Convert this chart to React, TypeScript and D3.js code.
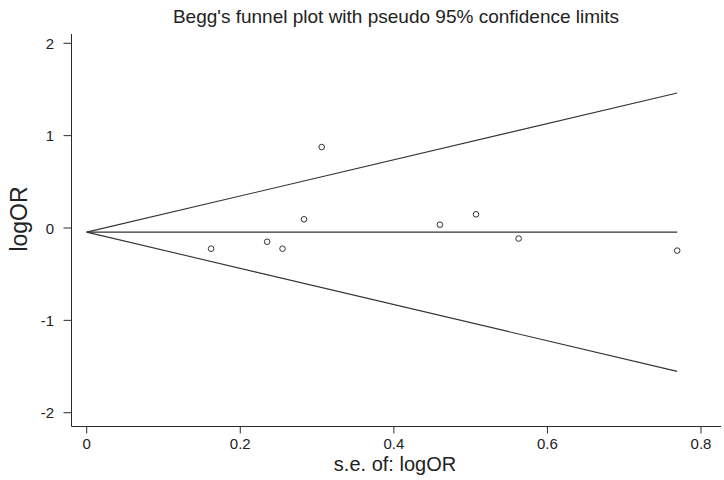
import React, { useEffect, useRef } from 'react';
import * as d3 from 'd3';

// study standard errors and log odds ratios
const seValues = [0.162, 0.235, 0.255, 0.283, 0.306, 0.46, 0.507, 0.5625, 0.769];
const logOrValues = [-0.224, -0.149, -0.224, 0.094, 0.877, 0.036, 0.148, -0.114, -0.245];
const pooledLogOr = -0.045;
const maxSe = 0.769;
const xTicks = [0, 0.2, 0.4, 0.6, 0.8];
const yTicks = [-2, -1, 0, 1, 2];

const App = () => {
  const svgRef = useRef<SVGSVGElement>(null);

  useEffect(() => {
    const svg = d3.select(svgRef.current);
    svg.selectAll('*').remove();

    const width = 724;
    const height = 480;
    const font = '"Liberation Sans", Arial, sans-serif';
    const ink = '#2a2a2a';

    const x = d3.scaleLinear().domain([0, 0.8]).range([86.7, 701]);
    const y = d3.scaleLinear().domain([-2, 2]).range([412.7, 43.3]);

    svg.append('rect').attr('width', width).attr('height', height).attr('fill', '#fff');

    // axes
    const axisX = 71.5;
    const axisY = 426.5;

    svg.append('line')
      .attr('x1', axisX).attr('x2', axisX)
      .attr('y1', 34).attr('y2', axisY)
      .attr('stroke', ink).attr('stroke-width', 1);

    svg.append('line')
      .attr('x1', axisX).attr('x2', 721)
      .attr('y1', axisY).attr('y2', axisY)
      .attr('stroke', ink).attr('stroke-width', 1);

    const yt = svg.append('g');
    yTicks.forEach(t => {
      yt.append('line')
        .attr('x1', axisX - 8).attr('x2', axisX)
        .attr('y1', y(t)).attr('y2', y(t))
        .attr('stroke', ink);
      yt.append('text')
        .attr('x', 54).attr('y', y(t) + 5.5)
        .attr('text-anchor', 'end')
        .style('font-family', font).style('font-size', '15px').style('fill', '#222')
        .text(String(t));
    });

    const xt = svg.append('g');
    xTicks.forEach(t => {
      xt.append('line')
        .attr('x1', x(t)).attr('x2', x(t))
        .attr('y1', axisY).attr('y2', axisY + 7)
        .attr('stroke', ink);
      xt.append('text')
        .attr('x', x(t)).attr('y', 449)
        .attr('text-anchor', 'middle')
        .style('font-family', font).style('font-size', '15px').style('fill', '#222')
        .text(t === 0 ? '0' : d3.format('.1f')(t));
    });

    // pseudo 95% confidence limits
    const lines: [number, number][][] = [
      [[0, pooledLogOr], [maxSe, pooledLogOr + 1.96 * maxSe]],
      [[0, pooledLogOr], [maxSe, pooledLogOr]],
      [[0, pooledLogOr], [maxSe, pooledLogOr - 1.96 * maxSe]],
    ];
    const line = d3.line<[number, number]>().x(d => x(d[0])).y(d => y(d[1]));
    lines.forEach(l => {
      svg.append('path')
        .attr('d', line(l))
        .attr('fill', 'none')
        .attr('stroke', '#333')
        .attr('stroke-width', 1.1);
    });

    // studies
    svg.selectAll('.study')
      .data(seValues)
      .enter()
      .append('circle')
      .attr('class', 'study')
      .attr('cx', d => x(d))
      .attr('cy', (d, i) => y(logOrValues[i]))
      .attr('r', 2.8)
      .attr('fill', 'none')
      .attr('stroke', '#333')
      .attr('stroke-width', 1);

    // titles
    svg.append('text')
      .attr('x', 396).attr('y', 23)
      .attr('text-anchor', 'middle')
      .style('font-family', font).style('font-size', '19px').style('fill', '#222')
      .text("Begg's funnel plot with pseudo 95% confidence limits");

    svg.append('text')
      .attr('x', 395).attr('y', 471)
      .attr('text-anchor', 'middle')
      .style('font-family', font).style('font-size', '20px').style('fill', '#222')
      .text('s.e. of: logOR');

    svg.append('text')
      .attr('transform', `translate(27, 219) rotate(-90)`)
      .attr('text-anchor', 'middle')
      .style('font-family', font).style('font-size', '23px').style('fill', '#222')
      .text('logOR');
  }, []);

  return (
    <svg
      ref={svgRef}
      width={724}
      height={480}
      style={{ position: 'absolute', left: 0, top: 0 }}
    />
  );
};

export default App;
